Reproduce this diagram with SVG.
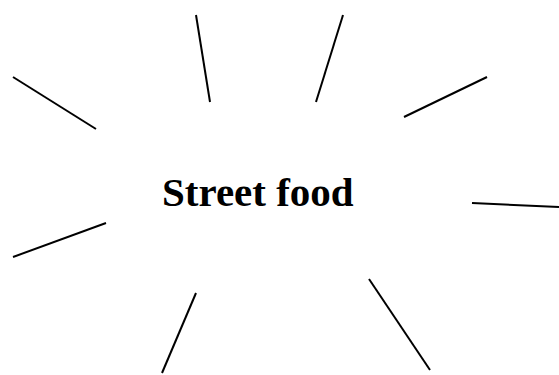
<svg xmlns="http://www.w3.org/2000/svg" width="559" height="375" viewBox="0 0 559 375">
<style>
.ray{stroke:#000;stroke-width:2;fill:none}
.lbl{font-family:"Liberation Serif","Times New Roman",serif;font-weight:bold;font-size:41px;fill:#000}
</style>
<rect width="559" height="375" fill="#fff"/>
<g id="center">
<text class="lbl" x="162" y="206">Street food</text>
</g>
<g id="connectors">
<line class="ray" x1="13" y1="77" x2="96" y2="129"/>
<line class="ray" x1="196" y1="15" x2="210" y2="102"/>
<line class="ray" x1="343" y1="15" x2="316" y2="102"/>
<line class="ray" x1="404" y1="117" x2="487" y2="77"/>
<line class="ray" x1="472" y1="203" x2="559" y2="207"/>
<line class="ray" x1="13" y1="257" x2="106" y2="223"/>
<line class="ray" x1="196" y1="293" x2="162" y2="373"/>
<line class="ray" x1="369" y1="279" x2="430" y2="370"/>
</g>
</svg>
